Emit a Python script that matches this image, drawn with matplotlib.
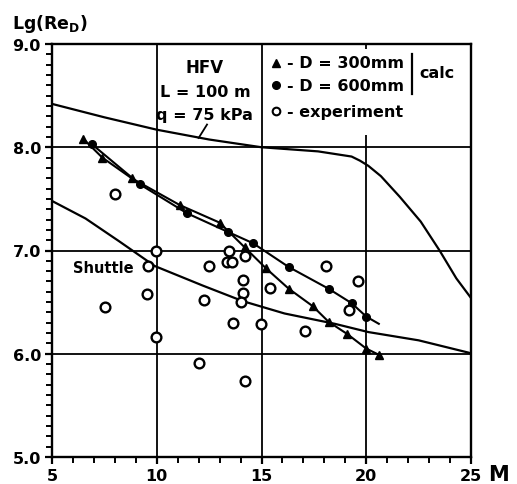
import matplotlib
matplotlib.use("Agg")
from matplotlib import pyplot as plt
from matplotlib.patches import Rectangle
from matplotlib.ticker import MultipleLocator

# HFV, L = 100 m, q = 75 kPa
hfv_m = [5, 7.5, 10, 12.5, 15, 17.7, 19.3, 19.7, 20.1, 20.7, 21.6, 22.6, 23.5, 24.3, 25]
hfv_lg = [8.42, 8.29, 8.17, 8.075, 8.0, 7.96, 7.91, 7.87, 7.82, 7.72, 7.52, 7.28, 7.0, 6.73, 6.54]

# Shuttle
shuttle_m = [5, 6.6, 8.2, 9.9, 12.2, 14.1, 16.1, 18.5, 20.1, 22.5, 24.9, 25]
shuttle_lg = [7.48, 7.31, 7.09, 6.85, 6.66, 6.51, 6.39, 6.29, 6.21, 6.13, 6.01, 6.0]

# calc, D = 300mm (triangles)
d300_m = [6.5, 7.4, 8.8, 11.1, 13.0, 14.2, 15.2, 16.3, 17.45, 18.2, 19.1, 20.0, 20.6]
d300_lg = [8.08, 7.90, 7.70, 7.44, 7.27, 7.03, 6.83, 6.63, 6.46, 6.31, 6.19, 6.05, 5.99]

# calc, D = 600mm (filled circles), last point is the end of the line only
d600_m = [6.9, 9.2, 11.45, 13.4, 14.6, 16.3, 18.2, 19.3, 20.0, 20.6]
d600_lg = [8.03, 7.64, 7.36, 7.18, 7.07, 6.84, 6.63, 6.49, 6.36, 6.29]

# experiment (open circles)
exp_m = [7.53, 8.0, 9.96, 9.58, 9.53, 9.96, 12.0, 12.26, 12.5, 13.45, 13.35, 13.6,
         14.2, 14.1, 14.1, 14.0, 13.64, 14.2, 14.98, 15.4, 17.1, 18.1, 19.6, 19.2]
exp_lg = [6.45, 7.55, 7.0, 6.85, 6.58, 6.16, 5.91, 6.52, 6.85, 7.0, 6.89, 6.89,
          6.95, 6.71, 6.59, 6.50, 6.30, 5.74, 6.29, 6.64, 6.22, 6.85, 6.70, 6.42]

fig = plt.figure(figsize=(5.17, 4.85), dpi=100)
ax = fig.add_axes([52 / 517, 1 - 458 / 485, 419 / 517, 413 / 485])

ax.set_xlim(5, 25)
ax.set_ylim(5, 9)

# grid lines
for x in [10, 15, 20]:
  ax.axvline(x, color='black', lw=1.3, zorder=1)
for y in [6, 7, 8]:
  ax.axhline(y, color='black', lw=1.3, zorder=1)

# white area behind the legend block
ax.add_patch(Rectangle((19.5, 8.12), 1.0, 0.83, facecolor='white', edgecolor='none', zorder=1.5))

ax.plot(hfv_m, hfv_lg, color='black', lw=1.6, zorder=2)
ax.plot(shuttle_m, shuttle_lg, color='black', lw=1.6, zorder=2)

ax.plot(d300_m, d300_lg, color='black', lw=1.5, marker='^', ms=5.5, zorder=3)
ax.plot(d600_m, d600_lg, color='black', lw=1.5, marker='o', ms=5.5,
        markevery=list(range(len(d600_m) - 1)), zorder=3)
ax.plot(exp_m, exp_lg, ls='none', marker='o', ms=7, mfc='white', mec='black', mew=1.7, zorder=4)

for s in ax.spines.values():
  s.set_linewidth(1.7)

ax.xaxis.set_major_locator(MultipleLocator(5))
ax.xaxis.set_minor_locator(MultipleLocator(1))
ax.yaxis.set_major_locator(MultipleLocator(1))
ax.yaxis.set_minor_locator(MultipleLocator(0.1))
ax.tick_params(which='major', direction='out', length=5, width=1.6, pad=3)
ax.tick_params(which='minor', direction='out', length=4, width=1.4)
ax.set_xticks([5, 10, 15, 20, 25])
ax.set_xticklabels(['5', '10', '15', '20', '25'])
ax.set_yticks([5, 6, 7, 8, 9])
ax.set_yticklabels(['5.0', '6.0', '7.0', '8.0', '9.0'])
for lab in ax.get_xticklabels() + ax.get_yticklabels():
  lab.set_fontweight('bold')
  lab.set_fontsize(11.5)

# axis titles
fig.text(12 / 517, 1 - 24 / 485, r'$\mathbf{Lg(Re_D)}$', fontsize=12.5, ha='left', va='center')
fig.text(499 / 517, 1 - 475 / 485, 'M', fontsize=15, fontweight='bold', ha='center', va='center')

# HFV annotation
ax.text(12.3, 8.78, 'HFV', fontsize=12, fontweight='bold', ha='center', va='center')
ax.text(12.3, 8.54, 'L = 100 m', fontsize=11.5, fontweight='bold', ha='center', va='center')
ax.text(12.3, 8.32, 'q = 75 kPa', fontsize=11.5, fontweight='bold', ha='center', va='center')
ax.plot([12.4, 12.0], [8.22, 8.09], color='black', lw=1.3)

ax.text(6.0, 6.84, 'Shuttle', fontsize=10.5, fontweight='bold', ha='left', va='center')

# legend block
leg_x = 15.7
ax.plot([leg_x], [8.82], marker='^', ms=5.5, color='black', ls='none')
ax.plot([leg_x], [8.60], marker='o', ms=5.5, color='black', ls='none')
ax.plot([leg_x], [8.35], marker='o', ms=5.5, mfc='white', mec='black', mew=1.5, ls='none')
ax.text(leg_x + 0.5, 8.82, '- D = 300mm', fontsize=11.5, fontweight='bold', ha='left', va='center')
ax.text(leg_x + 0.5, 8.60, '- D = 600mm', fontsize=11.5, fontweight='bold', ha='left', va='center')
ax.text(leg_x + 0.5, 8.35, '- experiment', fontsize=11.5, fontweight='bold', ha='left', va='center')
ax.plot([22.2, 22.2], [8.52, 8.9], color='black', lw=1.6)
ax.text(22.55, 8.72, 'calc', fontsize=11.5, fontweight='bold', ha='left', va='center')

fig.savefig('out.png', dpi=100)
